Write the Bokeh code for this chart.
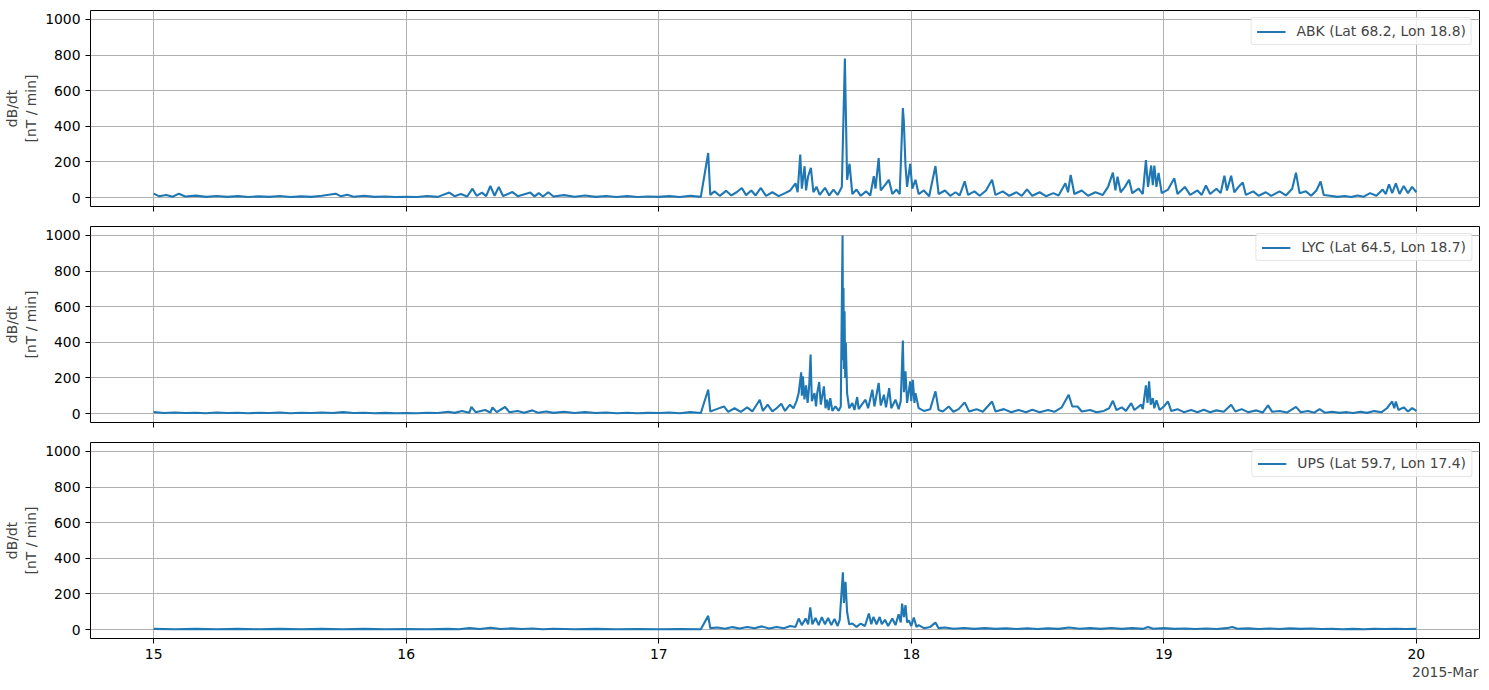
import numpy as np
from datetime import datetime
from bokeh.plotting import figure
from bokeh.layouts import column
from bokeh.models import (FixedTicker, DatetimeTickFormatter, Range1d, Title, Legend)
from bokeh.embed import file_html
from bokeh.resources import INLINE

# ---------------- data (hours since 2015-03-15 00:00 UT, dB/dt in nT/min) -------------
abk_hours = [0.0, 0.5, 1.2, 1.8, 2.4, 3.0, 4.0, 5.0, 6.0, 7.0, 8.0, 9.0, 10.0, 11.0, 12.0, 13.0,
             14.0, 15.0, 16.0, 17.3, 17.8, 18.4, 19.0, 20.0, 21.0, 22.0, 23.0, 24.0, 25.0, 26.0,
             27.0, 28.1, 28.6, 29.2, 29.8, 30.3, 30.7, 31.2, 31.6, 32.0, 32.4, 32.8, 33.2, 34.1,
             34.6, 35.8, 36.2, 36.6, 37.0, 37.5, 38.0, 39.0, 40.0, 41.0, 42.0, 43.0, 44.0, 45.0,
             46.0, 47.0, 48.0, 49.0, 50.0, 51.0, 52.0, 52.7, 52.9, 53.3, 53.8, 54.4, 54.9, 55.4,
             55.9, 56.3, 56.8, 57.2, 57.7, 58.2, 58.8, 59.4, 60.0, 60.5, 61.0, 61.2, 61.45, 61.6,
             61.86, 62.0, 62.2, 62.46, 62.7, 63.0, 63.3, 63.8, 64.2, 64.6, 65.0, 65.4, 65.69, 65.9,
             66.13, 66.4, 66.8, 67.2, 67.7, 68.1, 68.44, 68.6, 68.9, 69.1, 69.5, 69.87, 70.2, 70.6,
             70.9, 71.2, 71.29, 71.45, 71.6, 71.9, 72.1, 72.4, 72.7, 73.2, 73.7, 74.3, 74.6, 75.2,
             75.7, 76.2, 76.6, 77.08, 77.4, 78.0, 78.5, 79.1, 79.68, 80.0, 80.7, 81.3, 82.0, 82.5,
             83.0, 83.5, 84.2, 84.8, 85.5, 86.0, 86.64, 86.9, 87.15, 87.5, 88.2, 88.8, 89.5, 90.2,
             90.7, 91.16, 91.4, 91.6, 91.9, 92.3, 92.7, 93.0, 93.6, 94.0, 94.3, 94.5, 94.8, 94.95,
             95.1, 95.3, 95.5, 95.8, 96.4, 97.0, 97.3, 98.0, 98.5, 99.2, 99.6, 100.0, 100.4, 101.0,
             101.4, 101.76, 102.0, 102.4, 102.7, 103.1, 103.5, 103.8, 104.5, 105.0, 105.7, 106.2,
             107.0, 107.6, 108.2, 108.56, 108.9, 109.5, 110.0, 110.5, 110.9, 111.2, 111.8, 112.5,
             113.2, 113.8, 114.4, 115.0, 115.6, 116.2, 116.8, 117.1, 117.4, 117.7, 118.05, 118.4,
             118.8, 119.2, 119.6, 120.0]
abk_vals = [22, 8, 15, 5, 22, 6, 11, 4, 9, 4, 8, 3, 7, 4, 9, 3,
            7, 4, 10, 22, 7, 16, 5, 10, 4, 6, 3, 5, 3, 9,
            4, 28, 8, 20, 6, 50, 10, 28, 8, 65, 10, 60, 9, 31,
            8, 28, 7, 25, 6, 30, 6, 14, 5, 12, 4, 9, 3, 8,
            3, 6, 4, 8, 3, 10, 4, 250, 15, 35, 10, 38, 12, 30,
            54, 14, 40, 12, 54, 10, 30, 8, 25, 40, 80, 30, 241, 50,
            176, 40, 120, 167, 30, 60, 15, 55, 12, 45, 15, 60, 781, 100,
            190, 20, 45, 10, 35, 12, 120, 50, 222, 40, 70, 100, 20, 45,
            20, 502, 430, 180, 60, 190, 50, 100, 20, 40, 8, 177, 20, 40,
            10, 30, 12, 91, 15, 35, 10, 40, 100, 15, 35, 10, 30, 10,
            46, 10, 30, 8, 25, 12, 80, 30, 127, 20, 40, 10, 30, 15,
            60, 140, 40, 117, 30, 60, 100, 25, 50, 20, 210, 60, 180, 70,
            180, 60, 139, 25, 45, 108, 20, 60, 15, 40, 15, 68, 20, 50,
            25, 123, 40, 123, 30, 60, 85, 15, 35, 10, 30, 10,
            35, 12, 50, 140, 25, 35, 10, 40, 90, 15, 10, 4,
            9, 3, 12, 5, 25, 10, 45, 20, 75, 25, 80, 20,
            65, 25, 60, 30]

lyc_hours = [0, 1, 2, 3, 4, 5, 6, 7, 8, 9, 10, 11, 12, 13, 14, 15, 16, 17, 18, 19, 20, 21, 22, 23,
             24, 25, 26, 27, 28, 28.6, 29.3, 30, 30.2, 30.6, 31.5, 32, 32.2, 32.6, 33.4, 33.8, 34.6,
             35.2, 36, 36.5, 37.3, 38, 39, 40, 41, 42, 43, 44, 45, 46, 47, 48, 49, 50, 51, 52, 52.7,
             52.9, 53.5, 54.2, 54.6, 55.2, 55.8, 56.4, 56.9, 57.6, 57.9, 58.35, 58.8, 59.2, 59.65,
             60.0, 60.47, 60.8, 61.1, 61.3, 61.54, 61.6, 61.7, 61.85, 62.0, 62.15, 62.3, 62.43,
             62.55, 62.8, 62.95, 63.06, 63.25, 63.4, 63.7, 63.85, 64.0, 64.15, 64.3, 64.5, 64.8,
             65.1, 65.3, 65.47, 65.52, 65.56, 65.6, 65.66, 65.72, 65.78, 65.9, 66.1, 66.4, 66.6,
             66.86, 67.0, 67.3, 67.65, 67.9, 68.3, 68.5, 68.9, 69.1, 69.4, 69.6, 69.9, 70.1, 70.5,
             70.8, 71.0, 71.2, 71.3, 71.45, 71.6, 71.9, 72.0, 72.15, 72.3, 72.4, 72.7, 73.2, 73.8,
             74.3, 74.6, 75.0, 75.56, 76.0, 76.5, 77.08, 77.5, 78.2, 78.8, 79.68, 80.0, 80.8, 81.5,
             82.2, 82.9, 83.5, 84.2, 85.0, 85.6, 86.3, 86.96, 87.04, 87.3, 87.8, 88.2, 89.0, 89.6,
             90.3, 90.8, 91.16, 91.5, 92.0, 92.4, 92.9, 93.2, 93.85, 94.0, 94.3, 94.45, 94.6, 94.75,
             94.95, 95.1, 95.3, 95.6, 96.0, 96.4, 96.7, 97.3, 97.9, 98.6, 99.2, 99.8, 100.4, 101.0,
             101.7, 102.4, 102.8, 103.4, 104.0, 104.8, 105.4, 105.9, 106.3, 107.0, 107.7, 108.56,
             109.0, 109.7, 110.3, 110.8, 111.3, 112.0, 112.7, 113.4, 114.0, 114.7, 115.3, 116.0,
             116.7, 117.2, 117.7, 117.9, 118.05, 118.3, 118.8, 119.2, 119.6, 120.0]
lyc_vals = [8, 3, 6, 3, 5, 2, 6, 3, 5, 2, 5, 3, 6, 2, 5, 3, 6, 3, 8, 3, 5, 2, 4, 2,
            3, 2, 5, 3, 10, 4, 15, 5, 38, 8, 20, 6, 35, 8, 37, 8, 15,
            5, 18, 5, 12, 4, 10, 3, 8, 3, 6, 2, 5, 2, 4, 3, 6, 2, 8, 3, 134,
            12, 25, 40, 10, 30, 10, 35, 12, 78, 15, 50, 12, 30, 55,
            15, 50, 30, 70, 115, 232, 100, 209, 80, 158, 60, 158, 331,
            70, 115, 40, 115, 177, 50, 153, 30, 78, 20, 87, 15, 40,
            15, 40, 1000, 300, 705, 250, 574, 200, 397, 115, 30, 59, 20,
            93, 25, 50, 78, 30, 134, 40, 172, 45, 106, 35, 143, 30, 78,
            25, 70, 410, 120, 237, 60, 181, 70, 190, 60, 115, 31, 15, 25,
            125, 20, 12, 40, 10, 25, 63, 12, 25, 10, 68, 12, 25, 8,
            20, 8, 22, 8, 20, 10, 35, 106, 90, 40, 40, 12, 20, 8,
            15, 30, 72, 20, 35, 15, 59, 20, 50, 25, 158, 60, 181, 50,
            87, 30, 75, 20, 40, 68, 15, 25, 8, 20, 8, 22, 8, 18,
            10, 50, 12, 25, 8, 18, 6, 46, 10, 15, 6, 38,
            8, 15, 5, 25, 5, 10, 4, 8, 3, 10, 4, 14,
            8, 30, 68, 30, 68, 20, 35, 12, 31, 15]

ups_hours = [0, 2, 4, 6, 8, 10, 12, 14, 16, 18, 20, 22, 24, 26, 28, 29, 30, 31, 32, 33, 34, 35,
             36, 37, 38, 40, 42, 44, 46, 48, 50, 52, 52.7, 52.9, 53.6, 54.3, 55.0, 55.7, 56.4, 57.1,
             57.8, 58.5, 59.2, 59.9, 60.5, 61.0, 61.3, 61.6, 61.96, 62.2, 62.4, 62.6, 62.9, 63.2,
             63.5, 63.8, 64.1, 64.4, 64.7, 65.0, 65.2, 65.5, 65.6, 65.75, 65.9, 66.1, 66.4, 66.8,
             67.2, 67.6, 67.97, 68.2, 68.4, 68.7, 69.0, 69.2, 69.5, 69.8, 70.2, 70.5, 70.8, 71.0,
             71.13, 71.3, 71.45, 71.6, 71.77, 72.0, 72.24, 72.5, 72.7, 73.2, 73.8, 74.3, 74.6, 75.2,
             76, 77, 78, 79, 80, 81, 82, 83, 84, 85, 86, 87, 88, 89, 90, 91, 92, 93, 94, 94.5, 95,
             96, 97, 98, 99, 100, 101, 102, 102.5, 103, 104, 105, 106, 107, 108, 109, 110, 111,
             112, 113, 114, 115, 116, 117, 118, 119, 120]
ups_vals = [4, 2, 4, 2, 4, 2, 4, 2, 4, 2, 4, 2, 3, 2, 4, 2, 8, 3, 10, 3, 7, 3,
            6, 2, 5, 2, 4, 2, 3, 2, 3, 2, 77, 8, 12, 5, 14, 6, 15, 7,
            18, 6, 15, 8, 20, 15, 62, 25, 62, 30, 124, 30, 65, 25,
            70, 30, 65, 25, 60, 20, 55, 321, 150, 268, 100, 30, 34, 15,
            34, 20, 90, 30, 71, 30, 71, 30, 55, 20, 62, 25, 86, 40,
            146, 70, 137, 40, 52, 20, 68, 15, 25, 8, 15, 39, 8, 12,
            5, 9, 4, 8, 4, 7, 3, 7, 3, 7, 4, 12, 5, 8, 4, 9, 4, 8, 4, 15, 5,
            8, 4, 6, 3, 6, 3, 8, 15, 5, 7, 3, 6, 3, 7, 4, 6, 3,
            4, 2, 4, 2, 4, 3, 5, 3, 4]

stations = ["ABK (Lat 68.2, Lon 18.8)", "LYC (Lat 64.5, Lon 18.7)", "UPS (Lat 59.7, Lon 17.4)"]
y_ticks = [0, 200, 400, 600, 800, 1000]
x_tick_days = [15, 16, 17, 18, 19, 20]
offset_label = "2015-Mar"

# ---------------- helpers -------------
def to_time(hours):
    secs = np.round(np.array(hours, dtype=float) * 3600).astype("int64")
    return np.datetime64("2015-03-15T00:00:00") + secs.astype("timedelta64[s]")

def ms(dt):
    return (dt - datetime(1970, 1, 1)).total_seconds() * 1000.0

FONT = "DejaVu Sans"
BLUE = "#1f77b4"
x_range = Range1d(start=datetime(2015, 3, 14, 18), end=datetime(2015, 3, 20, 6))
xticks = [ms(datetime(2015, 3, d)) for d in x_tick_days]
fmt = DatetimeTickFormatter(microseconds="%d", milliseconds="%d", seconds="%d", minsec="%d",
                            minutes="%d", hourmin="%d", hours="%d", days="%d", months="%d",
                            years="%d")

def make_panel(hours, vals, name, top, bottom):
    p = figure(frame_width=1389, frame_height=196, x_axis_type="datetime",
               x_range=x_range, y_range=Range1d(-50, 1050),
               output_backend="svg", toolbar_location=None,
               min_border_left=83, min_border_right=1, min_border_top=(10 if top else 2),
               min_border_bottom=(44 if bottom else 18))
    p.line(to_time(hours), vals, line_color=BLUE, line_width=2.1, legend_label=name)

    p.outline_line_color = "black"
    p.outline_line_width = 1
    p.background_fill_color = "white"
    p.border_fill_color = "white"
    p.grid.grid_line_color = "#b0b0b0"
    p.grid.grid_line_width = 1

    p.xaxis.ticker = FixedTicker(ticks=xticks)
    p.xaxis.formatter = fmt
    p.yaxis.ticker = FixedTicker(ticks=y_ticks)
    for ax in (p.xaxis[0], p.yaxis[0]):
        ax.axis_line_color = None
        ax.major_tick_line_color = "black"
        ax.major_tick_line_width = 1
        ax.major_tick_out = 5
        ax.major_tick_in = 0
        ax.minor_tick_line_color = None
        ax.major_label_text_font = FONT
        ax.major_label_text_font_size = "13.9px"
        ax.major_label_text_color = "black"
    p.yaxis.major_label_standoff = 5
    p.yaxis.axis_label = "dB/dt\n[nT / min]"
    p.yaxis.axis_label_text_font = FONT
    p.yaxis.axis_label_text_font_size = "13.9px"
    p.yaxis.axis_label_text_font_style = "normal"
    p.yaxis.axis_label_standoff = 3
    if bottom:
        p.xaxis.major_label_standoff = 5
        t = Title(text=offset_label, align="right", text_font=FONT, text_font_size="13.9px",
                  text_font_style="normal", standoff=0, offset=1)
        p.add_layout(t, "below")
    else:
        p.xaxis.major_label_text_font_size = "0px"
        p.xaxis.major_label_text_color = None
        p.xaxis.major_label_standoff = 0

    lg = p.legend[0]
    lg.location = "top_right"
    lg.margin = 7
    lg.padding = 5
    lg.spacing = 0
    lg.glyph_width = 29
    lg.glyph_height = 15
    lg.label_height = 15
    lg.label_standoff = 11
    lg.label_text_font = FONT
    lg.label_text_font_size = "13.9px"
    lg.border_line_color = "#cccccc"
    lg.border_line_width = 1
    lg.background_fill_alpha = 0.8
    if "border_radius" in Legend.properties():
        lg.border_radius = 3
    return p

p1 = make_panel(abk_hours, abk_vals, stations[0], True, False)
p2 = make_panel(lyc_hours, lyc_vals, stations[1], False, False)
p3 = make_panel(ups_hours, ups_vals, stations[2], False, True)

layout = column(p1, p2, p3, spacing=0)
open("out.html", "w").write(file_html(layout, INLINE))
